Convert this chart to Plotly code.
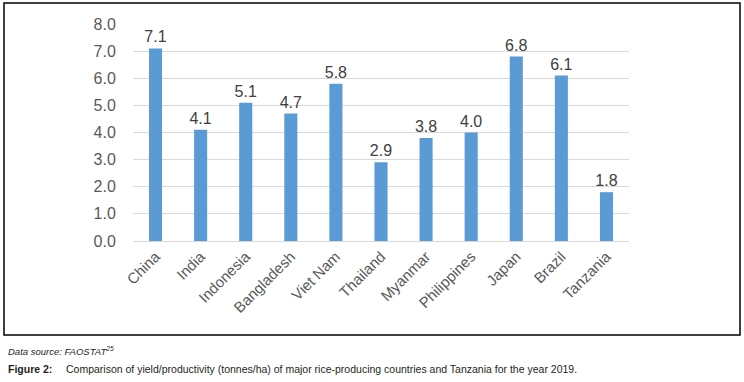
import plotly.graph_objects as go

countries = ["China", "India", "Indonesia", "Bangladesh", "Viet Nam", "Thailand",
             "Myanmar", "Philippines", "Japan", "Brazil", "Tanzania"]
yields = [7.1, 4.1, 5.1, 4.7, 5.8, 2.9, 3.8, 4.0, 6.8, 6.1, 1.8]
y_ticks = [0, 1, 2, 3, 4, 5, 6, 7, 8]

W, H = 744, 382
L, R, T, B = 133, 629, 24, 241  # plot area in px
pw, ph = R - L, B - T

def px(x):
    return (x - L) / pw

def py(y):
    return (B - y) / ph

fig = go.Figure(go.Bar(
    x=countries, y=yields,
    marker=dict(color="#5B9BD5", line=dict(width=0)),
    text=[f"{v:.1f}" for v in yields],
    textposition="outside",
    constraintext="none",
    textfont=dict(family="Liberation Sans, Arial, sans-serif", size=16, color="#404040"),
    cliponaxis=False,
))

fig.update_layout(
    width=W, height=H,
    margin=dict(l=L, r=W - R, t=T, b=H - B, autoexpand=False),
    paper_bgcolor="white", plot_bgcolor="white",
    bargap=0.71,
    showlegend=False,
    font=dict(family="Liberation Sans, Arial, sans-serif", color="#595959"),
)
fig.update_yaxes(
    range=[0, 8], tickvals=y_ticks, tickformat=".1f",
    showgrid=True, gridcolor="#D9D9D9", gridwidth=1,
    zeroline=False, showline=False, automargin=False,
    ticks="outside", ticklen=13, tickcolor="rgba(0,0,0,0)",
    tickfont=dict(size=16, color="#595959"),
)
fig.update_xaxes(
    tickangle=-45, showline=True, linecolor="#D9D9D9", linewidth=1,
    automargin=False,
    ticks="", tickfont=dict(size=15, color="#595959"),
)

fig.add_shape(type="rect", xref="paper", yref="paper",
              x0=px(4), x1=px(740), y0=py(335), y1=py(3),
              line=dict(color="black", width=1.5), fillcolor="rgba(0,0,0,0)")

cap_font = "Liberation Sans Narrow, Arial Narrow, Liberation Sans, Arial, sans-serif"
fig.add_annotation(xref="paper", yref="paper", x=px(6), y=py(351),
                   xanchor="left", yanchor="middle", showarrow=False,
                   text="<i>Data source: FAOSTAT<sup>25</sup></i>",
                   font=dict(family=cap_font, size=9.5, color="#231F20"))
fig.add_annotation(xref="paper", yref="paper", x=px(6), y=py(369),
                   xanchor="left", yanchor="middle", showarrow=False,
                   text="<b>Figure 2:</b>",
                   font=dict(family=cap_font, size=10.5, color="#231F20"))
fig.add_annotation(xref="paper", yref="paper", x=px(64), y=py(369),
                   xanchor="left", yanchor="middle", showarrow=False,
                   text="Comparison of yield/productivity (tonnes/ha) of major rice-producing countries and Tanzania for the year 2019.",
                   font=dict(family=cap_font, size=10.5, color="#231F20"))

fig.write_html("out.html", config={"displayModeBar": False},
               post_script="document.body.style.margin='0';")
